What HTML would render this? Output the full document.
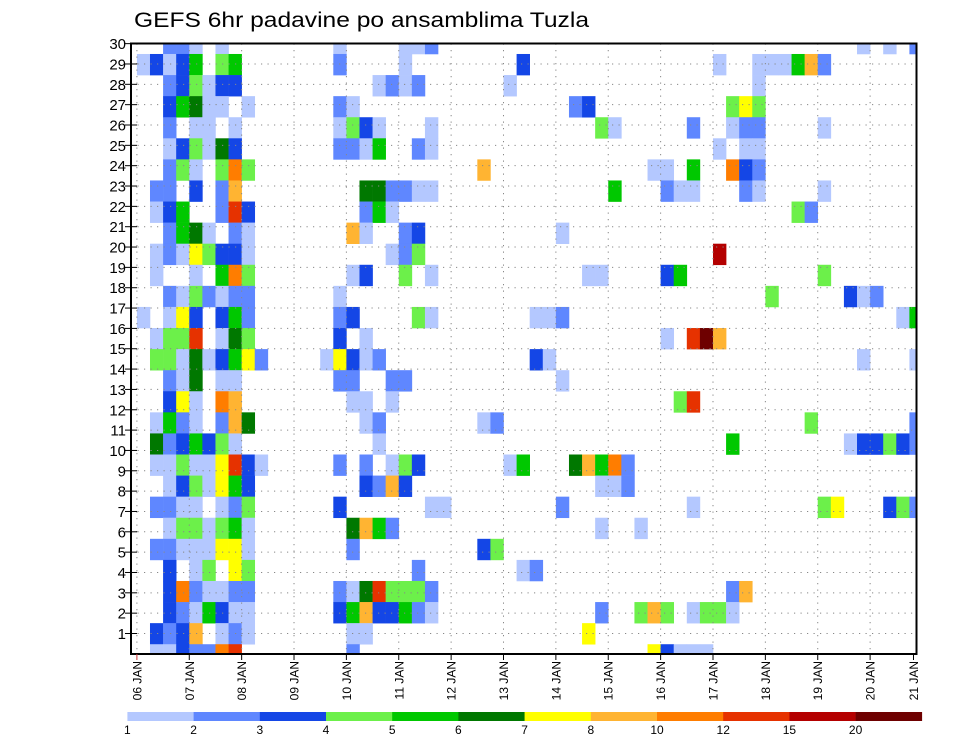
<!DOCTYPE html>
<html><head><meta charset="utf-8"><title>GEFS 6hr padavine po ansamblima Tuzla</title>
<style>
html,body{margin:0;padding:0;background:#fff;}
svg{display:block;font-family:"Liberation Sans",sans-serif;}
</style></head>
<body>
<svg id="chart" width="960" height="742" viewBox="0 0 960 742" xmlns="http://www.w3.org/2000/svg">
<text x="134" y="27" font-size="21" textLength="455" lengthAdjust="spacingAndGlyphs" fill="#000">GEFS 6hr padavine po ansamblima Tuzla</text>
<g id="cells"></g>
<g id="grid"></g>
<g id="axes"></g>
<g id="cbar"></g>
</svg>
<script>
// precipitation class breaks (mm) and colours
const levelBreaks = [1,2,3,4,5,6,7,8,10,12,15,20];
const levelColors = ["#b4c8ff","#5f87ff","#1446e6","#6cf04a","#00c800","#007800","#ffff00","#ffb432","#ff7d00","#e63200","#b40000","#6e0000"];
const levelCodes = "123456789abc";
const dayLabels = ["06 JAN","07 JAN","08 JAN","09 JAN","10 JAN","11 JAN","12 JAN","13 JAN","14 JAN","15 JAN","16 JAN","17 JAN","18 JAN","19 JAN","20 JAN","21 JAN"];
const memberTicks = [1,2,3,4,5,6,7,8,9,10,11,12,13,14,15,16,17,18,19,20,21,22,23,24,25,26,27,28,29,30];
// strips top->bottom; first 10 time steps as class codes
const prefix = [
"..221.1...","13135.45..","..234133..","..35611.1.","..2.11.1..",
"..134163..","..241.494.",".22.3.28..",".135..2a3.","..2561.21.",
".12174331.",".1..1.594.","..2142122.","1.173.352.",".144a.164.",
".441613572","..216.11..","..371.98..",".1521.286.",".6235341..",
".114117a31","..1341753.",".2211.124.","..1441451.",".22111771.",
"..3.14.74.","..3921122.","..3215311.",".3238.121.",".113229a.."];
// remaining time steps (index:class)
const tail = [
"15:1 20:1 21:1 22:2 55:1 57:1 59:2",
"15:2 20:1 29:3 44:1 47:1 48:1 49:1 50:5 51:8 52:2",
"18:1 19:2 20:1 21:2 28:1 47:1",
"15:2 16:1 33:2 34:3 45:4 46:7 47:4",
"15:1 16:4 17:3 18:1 22:1 35:4 36:1 42:2 45:1 46:2 47:2 52:1",
"15:2 16:2 17:1 18:5 21:2 22:1 44:1 46:1 47:1",
"26:8 39:1 40:1 42:5 45:9 46:3 47:2",
"17:6 18:6 19:2 20:2 21:1 22:1 36:5 40:2 41:1 42:1 46:2 47:1 52:1",
"17:2 18:5 19:1 50:4 51:2",
"16:8 17:1 20:2 21:3 32:1",
"19:1 20:2 21:4 44:b",
"16:1 17:3 20:4 22:1 34:1 35:1 40:3 41:5 52:4",
"15:1 48:4 54:3 55:1 56:2",
"15:2 16:3 21:4 22:1 30:1 31:1 32:2 58:1 59:5",
"15:3 17:1 40:1 42:a 43:c 44:8",
"14:1 15:7 16:3 17:1 18:2 30:3 31:1 55:1 59:1",
"15:2 16:2 19:2 20:2 32:1",
"16:1 17:1 19:1 41:4 42:a",
"17:1 18:2 26:1 27:2 51:4 59:2",
"18:1 45:5 54:1 55:3 56:3 57:4 58:3 59:2",
"15:2 17:2 19:1 20:4 21:3 28:1 29:5 33:6 34:8 35:5 36:9 37:2",
"17:3 18:2 19:8 20:3 35:1 36:1 37:2",
"15:3 22:1 23:1 32:2 42:1 52:4 53:7 57:3 58:4 59:2",
"16:6 17:8 18:5 19:2 35:1 38:1",
"16:2 26:3 27:4",
"21:2 29:1 30:2",
"15:2 16:1 17:6 18:a 19:4 20:4 21:4 22:2 45:2 46:8",
"15:3 16:5 17:8 18:3 19:3 20:5 21:2 22:1 35:2 38:4 39:8 40:4 42:1 43:4 44:4 45:1",
"16:1 17:1 34:7",
"16:2 39:7 40:3 41:1 42:1 43:1"];

const NS = "http://www.w3.org/2000/svg";
const plot = {l:131, r:916.5, t:43.5, b:654};
const nSteps = 60;
function xStep(k){ return 136.9 + 13.093*k; }
const stepW = 13.093;
function yStrip(s){ return 32.9 + 21.08*s; }
const stripH = 21.08;
function yTick(m){ return 633.5 - (m-1)*20.34; }
function xDay(d){ return xStep(d*4); }
function mk(tag, attrs, parent){
  const e = document.createElementNS(NS, tag);
  for (const k in attrs) e.setAttribute(k, attrs[k]);
  parent.appendChild(e); return e;
}

// build full grid
const grid = prefix.map((p, s) => {
  const row = p.split("").concat(new Array(nSteps - p.length).fill("."));
  tail[s].split(" ").filter(Boolean).forEach(t => { const [k, c] = t.split(":"); row[+k] = c; });
  return row;
});

const cells = document.getElementById("cells");
grid.forEach((row, s) => {
  row.forEach((c, k) => {
    const li = levelCodes.indexOf(c);
    if (li < 0) return;
    let x0 = Math.max(plot.l, xStep(k)), x1 = Math.min(plot.r, xStep(k) + stepW);
    let y0 = Math.max(plot.t, yStrip(s)), y1 = Math.min(plot.b, yStrip(s) + stripH);
    if (x1 <= x0 || y1 <= y0) return;
    const r = mk("rect", {x: x0.toFixed(2), y: y0.toFixed(2), width: (x1 - x0 + 0.3).toFixed(2), height: (y1 - y0 + 0.3).toFixed(2), fill: levelColors[li]}, cells);
    
    
  });
});

// grid dotted lines
const g = document.getElementById("grid");
memberTicks.forEach(m => {
  const l = mk("line", {x1: plot.l, x2: plot.r, y1: yTick(m), y2: yTick(m), stroke: "#888", "stroke-width": 1, "stroke-dasharray": "1.2,5.3"}, g);
  
  
});
dayLabels.forEach((d, i) => {
  const x = xDay(i);
  if (x > plot.r) return;
  const l = mk("line", {x1: x, x2: x, y1: plot.t, y2: plot.b, stroke: "#888", "stroke-width": 1, "stroke-dasharray": "1.2,5.3"}, g);
  
  
});

// axes
const ax = document.getElementById("axes");
const frame = mk("rect", {x: plot.l, y: plot.t, width: plot.r - plot.l, height: plot.b - plot.t, fill: "none", stroke: "#000", "stroke-width": 2}, ax);


memberTicks.forEach(m => {
  const y = yTick(m);
  const t = mk("line", {x1: plot.l - 6, x2: plot.l + 6, y1: y, y2: y, stroke: "#000", "stroke-width": 1}, ax);
  
  
  const lb = mk("text", {x: 126, y: y + 5.5, "font-size": 15, "text-anchor": "end", fill: "#000"}, ax);
  lb.textContent = m;
  
  
});
dayLabels.forEach((d, i) => {
  let x = xDay(i);
  if (x > plot.r) x = plot.r - 3;
  const t = mk("line", {x1: x, x2: x, y1: plot.b, y2: plot.b + 6, stroke: i === 0 ? "#c33" : "#000", "stroke-width": 1}, ax);
  
  
  const lb = mk("text", {x: 0, y: 0, "font-size": 12, "text-anchor": "end", fill: "#000", transform: "translate(" + (x + 4.5) + "," + (plot.b + 7) + ") rotate(-90)"}, ax);
  lb.textContent = d;
  
  
});

// colorbar
const cb = document.getElementById("cbar");
const cbX0 = 127.4, cbW = 66.2, cbY = 712, cbH = 9;
levelColors.forEach((c, i) => {
  const r = mk("rect", {x: cbX0 + i*cbW, y: cbY, width: cbW + 0.3, height: cbH, fill: c}, cb);
  
  
  const lb = mk("text", {x: cbX0 + i*cbW, y: cbY + 22, "font-size": 12, "text-anchor": "middle", fill: "#000"}, cb);
  lb.textContent = levelBreaks[i];
  
  
});
</script>
</body></html>
